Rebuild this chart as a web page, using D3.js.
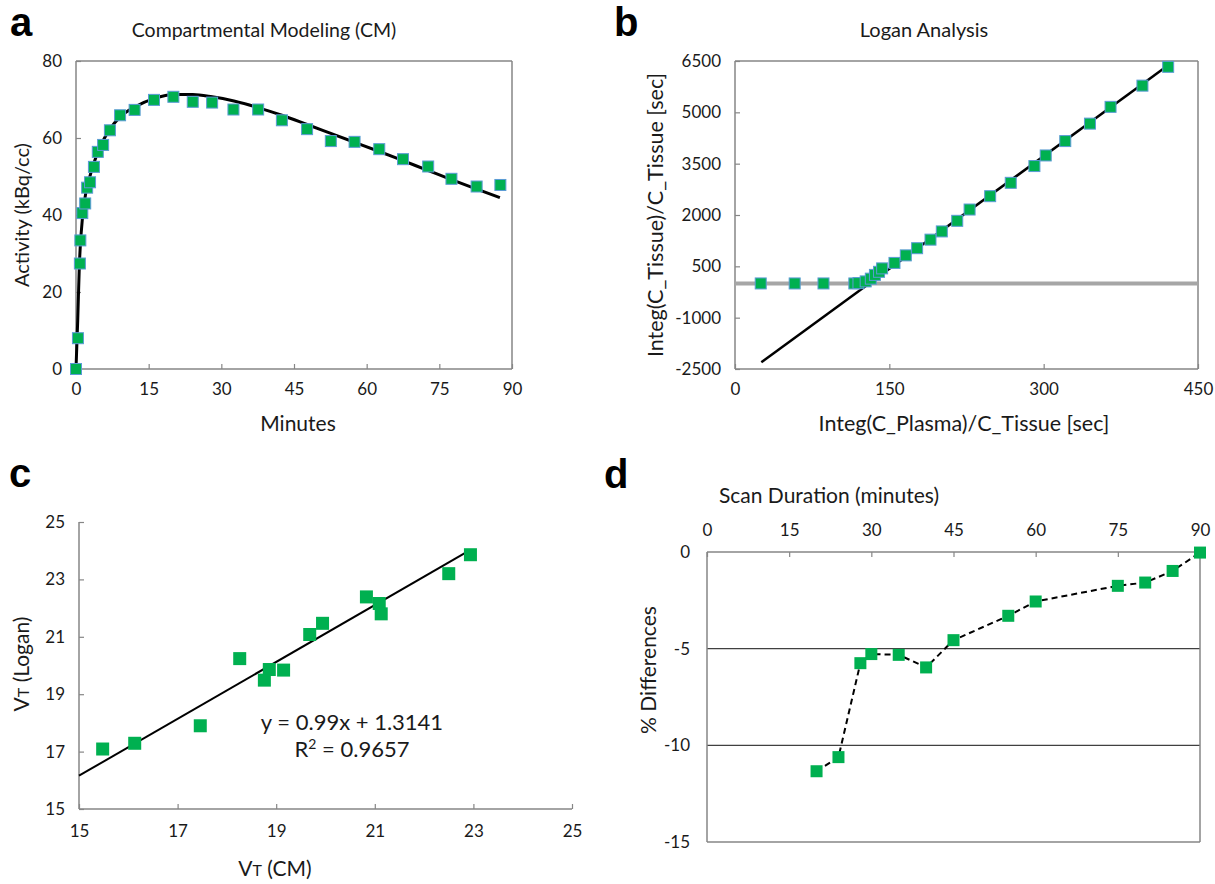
<!DOCTYPE html>
<html>
<head>
<meta charset="utf-8">
<script src="https://cdn.jsdelivr.net/npm/d3@7"></script>
<style>
body { margin: 0; background: #fff; }
text { font-family: Lato, "Open Sans", sans-serif; fill: #1a1a1a; }
.lbl { font-family: "Liberation Sans", Arial, sans-serif; font-weight: bold; fill: #000; }
</style>
</head>
<body>
<script>
// panel a - compartmental modeling
var cmTime = [0, 0.4, 0.8, 0.9, 1.3, 1.9, 2.3, 2.9, 3.7, 4.5, 5.6, 7, 9.1, 12.1, 16.1, 20.1, 24.1, 28.1, 32.5, 37.6, 42.5, 47.7, 52.6, 57.5, 62.6, 67.5, 72.7, 77.5, 82.7, 87.6];
var cmActivity = [0, 8, 27.4, 33.4, 40.5, 43, 47.1, 48.5, 52.5, 56.4, 58.2, 62, 65.9, 67.3, 69.9, 70.7, 69.4, 69.2, 67.4, 67.4, 64.6, 62.3, 59.2, 59, 57.1, 54.5, 52.6, 49.4, 47.4, 47.8];
var fitTime = [0, 0.35, 0.7, 1.05, 1.76, 2.8, 4.6, 7, 9.1, 12.2, 16.2, 20.2, 24.1, 28.1, 32.6, 37.6, 42.5, 47.7, 52.6, 57.5, 62.6, 67.5, 72.6, 77.5, 82.6, 87.5];
var fitActivity = [0, 12.5, 27.2, 35, 43.7, 49.7, 56.6, 62.3, 65.5, 68.1, 70.3, 71.3, 71.3, 70.7, 69.6, 67.9, 65.9, 63.5, 61.2, 58.9, 56.5, 54.1, 51.6, 49.2, 46.8, 44.5];

// panel b - logan analysis
var loganX = [25, 58, 86, 116, 120, 127, 132, 136, 140, 143, 155, 166, 177, 190, 201, 216, 228, 248, 268, 291, 302, 321, 345, 365, 396, 421];
var loganY = [0, 0, 0, 0, 10, 60, 140, 250, 340, 440, 600, 820, 1030, 1280, 1520, 1830, 2160, 2550, 2940, 3430, 3740, 4160, 4670, 5160, 5780, 6330];
var loganLineX = [25.6, 421.3];
var loganLineY = [-2300, 6380];

// panel c - VT comparison
var vtCM = [15.48, 16.13, 17.46, 18.26, 18.76, 18.86, 19.15, 19.68, 19.94, 20.83, 21.09, 21.13, 22.5, 22.94];
var vtLogan = [17.09, 17.29, 17.9, 20.24, 19.49, 19.86, 19.84, 21.08, 21.47, 22.39, 22.16, 21.8, 23.2, 23.86];
var regX = [15, 22.94];
var regY = [16.16, 24.03];

// panel d - scan duration
var scanMinutes = [20, 24, 28, 30, 35, 40, 45, 55, 60, 75, 80, 85, 90];
var pctDiff = [-11.34, -10.61, -5.75, -5.28, -5.32, -5.97, -4.56, -3.3, -2.56, -1.75, -1.58, -0.98, -0.03];

var green = "#00b050", frame = "#868686";

var svg = d3.select("body").append("svg")
	.attr("width", 1215)
	.attr("height", 884);

function zip(a, b) { return a.map(function(v, i) { return [v, b[i]]; }); }
function plain(d) { return String(d); }

function squares(g, pts, x, y, size, stroke) {
	g.selectAll(null)
		.data(pts)
		.enter().append("rect")
		.attr("x", function(d) { return x(d[0]) - size / 2; })
		.attr("y", function(d) { return y(d[1]) - size / 2; })
		.attr("width", size)
		.attr("height", size)
		.style("fill", green)
		.style("stroke", stroke || "none")
		.style("stroke-width", 1);
}

function styleAxis(ax) {
	ax.select(".domain").remove();
	ax.selectAll(".tick line").attr("stroke", frame).attr("stroke-width", 1.2);
	ax.selectAll(".tick text").style("font-size", "17px").style("fill", "#1a1a1a").style("font-family", "Lato, sans-serif");
}

function box(g, x0, x1, y0, y1, sides) {
	sides.forEach(function(s) {
		var l = { l: [x0, y0, x0, y1], r: [x1, y0, x1, y1], t: [x0, y0, x1, y0], b: [x0, y1, x1, y1] }[s];
		g.append("line")
			.attr("x1", l[0]).attr("y1", l[1]).attr("x2", l[2]).attr("y2", l[3])
			.attr("stroke", frame).attr("stroke-width", 1.5);
	});
}

function vLabel(x, y, txt, size) {
	return svg.append("text")
		.attr("transform", "translate(" + x + "," + y + ") rotate(-90)")
		.attr("text-anchor", "middle")
		.style("font-size", (size || 20) + "px")
		.text(txt);
}

function title(x, y, txt, size) {
	return svg.append("text")
		.attr("x", x).attr("y", y)
		.attr("text-anchor", "middle")
		.style("font-size", (size || 20) + "px")
		.text(txt);
}

// panel letters
[["a", 10, 36], ["b", 614, 36], ["c", 9, 487], ["d", 604, 488]].forEach(function(d) {
	svg.append("text").attr("class", "lbl").attr("x", d[1]).attr("y", d[2])
		.style("font-size", "40px").text(d[0]);
});

// ---------- a ----------
var xa = d3.scaleLinear([0, 90], [76, 512]);
var ya = d3.scaleLinear([0, 80], [369, 61]);
var ga = svg.append("g");
box(ga, 76, 512, 61, 369, ["l", "r", "t", "b"]);
styleAxis(ga.append("g").attr("transform", "translate(0,369)")
	.call(d3.axisBottom(xa).tickValues([0, 15, 30, 45, 60, 75, 90]).tickFormat(plain).tickSizeInner(-5).tickPadding(14)));
styleAxis(ga.append("g").attr("transform", "translate(76,0)")
	.call(d3.axisLeft(ya).tickValues([0, 20, 40, 60, 80]).tickFormat(plain).tickSizeInner(-5).tickPadding(14)));
ga.append("path")
	.datum(zip(fitTime, fitActivity))
	.attr("fill", "none").attr("stroke", "#000").attr("stroke-width", 3)
	.attr("d", d3.line().x(function(d) { return xa(d[0]); }).y(function(d) { return ya(d[1]); }).curve(d3.curveMonotoneX));
squares(ga, zip(cmTime, cmActivity), xa, ya, 11, "#5b9bd5");
title(264, 37, "Compartmental Modeling (CM)", 19.5);
title(298, 431, "Minutes", 21);
vLabel(29, 215, "Activity (kBq/cc)", 20);

// ---------- b ----------
var xb = d3.scaleLinear([0, 450], [735, 1198]);
var yb = d3.scaleLinear([-2500, 6500], [369, 61]);
var gb = svg.append("g");
box(gb, 735, 1198, 61, 369, ["l", "r", "t", "b"]);
styleAxis(gb.append("g").attr("transform", "translate(0,369)")
	.call(d3.axisBottom(xb).tickValues([0, 150, 300, 450]).tickFormat(plain).tickSizeInner(-5).tickPadding(14)));
styleAxis(gb.append("g").attr("transform", "translate(735,0)")
	.call(d3.axisLeft(yb).tickValues([-2500, -1000, 500, 2000, 3500, 5000, 6500]).tickFormat(plain).tickSizeInner(-5).tickPadding(14)));
gb.append("line")
	.attr("x1", xb(0)).attr("x2", xb(450)).attr("y1", yb(0)).attr("y2", yb(0))
	.attr("stroke", "#a6a6a6").attr("stroke-width", 4);
gb.append("path")
	.datum(zip(loganLineX, loganLineY))
	.attr("fill", "none").attr("stroke", "#000").attr("stroke-width", 2.5)
	.attr("d", d3.line().x(function(d) { return xb(d[0]); }).y(function(d) { return yb(d[1]); }));
squares(gb, zip(loganX, loganY), xb, yb, 11, "#5b9bd5");
title(924, 37, "Logan Analysis", 20);
title(964, 431, "Integ(C_Plasma)/C_Tissue [sec]", 21.5);
vLabel(663, 215, "Integ(C_Tissue)/C_Tissue [sec]", 21.5);

// ---------- c ----------
var xc = d3.scaleLinear([15, 25], [79, 572]);
var yc = d3.scaleLinear([15, 25], [809, 522]);
var gc = svg.append("g");
box(gc, 79, 572, 522, 809, ["l", "b"]);
styleAxis(gc.append("g").attr("transform", "translate(0,809)")
	.call(d3.axisBottom(xc).tickValues([15, 17, 19, 21, 23, 25]).tickFormat(plain).tickSizeInner(-5).tickPadding(16)));
styleAxis(gc.append("g").attr("transform", "translate(79,0)")
	.call(d3.axisLeft(yc).tickValues([15, 17, 19, 21, 23, 25]).tickFormat(plain).tickSizeInner(-5).tickPadding(14)));
gc.append("path")
	.datum(zip(regX, regY))
	.attr("fill", "none").attr("stroke", "#000").attr("stroke-width", 2)
	.attr("d", d3.line().x(function(d) { return xc(d[0]); }).y(function(d) { return yc(d[1]); }));
squares(gc, zip(vtCM, vtLogan), xc, yc, 13);
title(352, 730, "y = 0.99x + 1.3141", 22);
var r2 = title(352, 757, "", 22);
r2.append("tspan").text("R");
r2.append("tspan").attr("dy", -8).style("font-size", "14px").text("2");
r2.append("tspan").attr("dy", 8).text(" = 0.9657");
var cx = title(275, 876, "", 21);
cx.append("tspan").text("V");
cx.append("tspan").style("font-size", "16px").text("T");
cx.append("tspan").text(" (CM)");
var cy = vLabel(29, 664, "", 21);
cy.append("tspan").text("V");
cy.append("tspan").style("font-size", "16px").text("T");
cy.append("tspan").text(" (Logan)");

// ---------- d ----------
var xd = d3.scaleLinear([0, 90], [707, 1200]);
var yd = d3.scaleLinear([-15, 0], [842, 552]);
var gd = svg.append("g");
[-5, -10].forEach(function(v) {
	gd.append("line").attr("x1", xd(0)).attr("x2", xd(90)).attr("y1", yd(v)).attr("y2", yd(v))
		.attr("stroke", "#404040").attr("stroke-width", 1.2);
});
box(gd, 707, 1200, 552, 842, ["l", "r", "t", "b"]);
styleAxis(gd.append("g").attr("transform", "translate(0,552)")
	.call(d3.axisTop(xd).tickValues([0, 15, 30, 45, 60, 75, 90]).tickFormat(plain).tickSizeInner(-5).tickPadding(16)));
styleAxis(gd.append("g").attr("transform", "translate(707,0)")
	.call(d3.axisLeft(yd).tickValues([-15, -10, -5, 0]).tickFormat(plain).tickSizeInner(0).tickPadding(17)));
gd.append("path")
	.datum(zip(scanMinutes, pctDiff))
	.attr("fill", "none").attr("stroke", "#000").attr("stroke-width", 2)
	.attr("stroke-dasharray", "6,4")
	.attr("d", d3.line().x(function(d) { return xd(d[0]); }).y(function(d) { return yd(d[1]); }));
squares(gd, zip(scanMinutes, pctDiff), xd, yd, 12);
title(829, 503, "Scan Duration (minutes)", 21);
vLabel(656, 670, "% Differences", 21);
</script>
</body>
</html>
